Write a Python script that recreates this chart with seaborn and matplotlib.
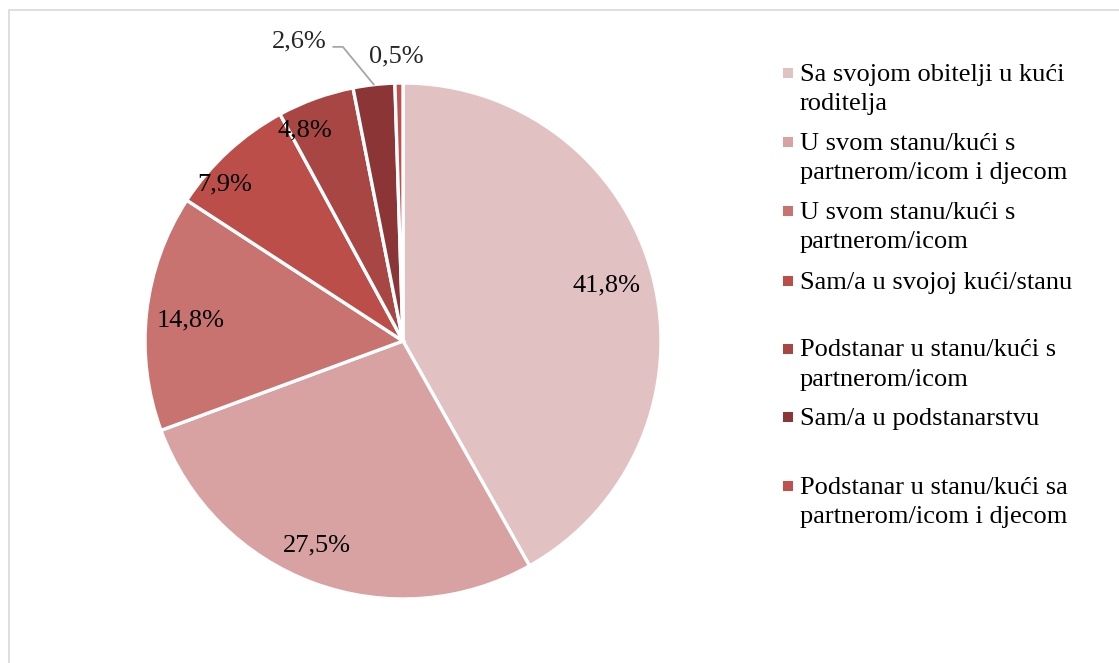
import numpy as np
import matplotlib
matplotlib.use("Agg")
import matplotlib.pyplot as plt
from matplotlib.patches import Rectangle
import seaborn as sns

sns.set_theme(style="white")
plt.rcParams['font.family'] = ['Liberation Serif', 'DejaVu Serif']

categories = [
    "Sa svojom obitelji u kući\nroditelja",
    "U svom stanu/kući s\npartnerom/icom i djecom",
    "U svom stanu/kući s\npartnerom/icom",
    "Sam/a u svojoj kući/stanu",
    "Podstanar u stanu/kući s\npartnerom/icom",
    "Sam/a u podstanarstvu",
    "Podstanar u stanu/kući sa\npartnerom/icom i djecom",
]
values = [41.8, 27.5, 14.8, 7.9, 4.8, 2.6, 0.5]
labels = ["41,8%", "27,5%", "14,8%", "7,9%", "4,8%", "2,6%", "0,5%"]
colors = ["#E2C1C2", "#D8A1A2", "#C97371", "#BC4E4A", "#A84644", "#8B3536", "#C0504D"]

W, H = 1119, 663
FS = 19
fig = plt.figure(figsize=(W / 100, H / 100), dpi=100)
fig.patch.set_facecolor("white")

cx, cy, R = 403, 341, 258
ax = fig.add_axes([(cx - R) / W, (H - cy - R) / H, 2 * R / W, 2 * R / H])
wedges, _ = ax.pie(values, colors=colors, startangle=90, counterclock=False,
                   radius=1.0, wedgeprops=dict(edgecolor="white", linewidth=2.4))
ax.set_xlim(-1, 1)
ax.set_ylim(-1, 1)
ax.set_aspect("equal")
ax.axis("off")

px = 1.0 / R  # one pixel in data units

# label radial distances and angular nudges (layout)
dists = [0.82, 0.85, 0.83, 0.925, 0.91, None, None]
nudge = [1.5, -3.0, 0.0, 5.5, 5.0, 0, 0]
for w, lab, d, n in zip(wedges, labels, dists, nudge):
    mid = np.deg2rad((w.theta1 + w.theta2) / 2 + n)
    if d is not None:
        ax.text(d * np.cos(mid), d * np.sin(mid) - 9 * px, lab, ha="center",
                va="baseline", fontsize=FS, color="black")

# small slices: outside labels
w6 = wedges[5]
m6 = np.deg2rad((w6.theta1 + w6.theta2) / 2)
p0 = (1.0 * np.cos(m6), 1.0 * np.sin(m6))
ax.plot([p0[0], -0.233, -0.271], [p0[1], 1.140, 1.140], color="#A6A6A6", lw=1.3,
        clip_on=False)
ax.text(-0.295, 1.136, labels[5], ha="right", va="baseline", fontsize=FS, clip_on=False)
ax.text(-0.027, 1.081, labels[6], ha="center", va="baseline", fontsize=FS, clip_on=False)

# legend (manual, Excel-like)
tops = [73, 142, 211, 280.5, 348.5, 416.5, 485.5]
for t, cat, col in zip(tops, categories, colors):
    fig.add_artist(Rectangle((783 / W, 1 - (t + 5) / H), 10 / W, 10 / H,
                             transform=fig.transFigure, facecolor=col, edgecolor="none"))
    for i, line in enumerate(cat.split("\n")):
        fig.text(800 / W, 1 - (t + 8 + 29 * i) / H, line, ha="left", va="baseline",
                 fontsize=FS, color="black")

# outer chart border
fig.add_artist(Rectangle((9 / W, -0.05), 1.2, 1 - 10 / H + 0.05, transform=fig.transFigure,
                         fill=False, edgecolor="#D9D9D9", linewidth=1.2))

fig.savefig("out.png", dpi=100, facecolor="white")
